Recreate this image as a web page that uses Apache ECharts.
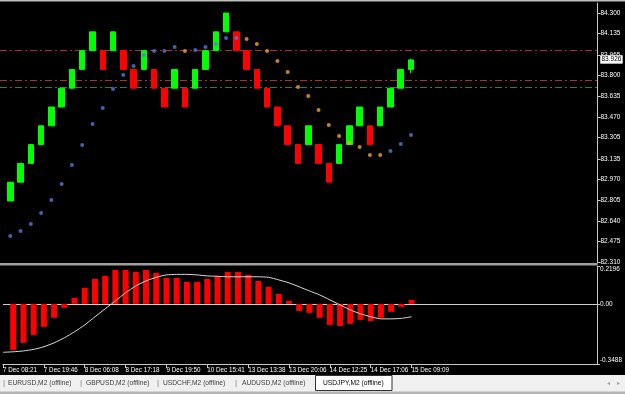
<!DOCTYPE html>
<html><head><meta charset="utf-8">
<script src="https://cdn.jsdelivr.net/npm/echarts@6/dist/echarts.min.js"></script>
<style>html,body{margin:0;padding:0;background:#000;}#c{width:625px;height:394px;}</style>
</head><body><div id="c"></div>
<script>
// ---- data ----
const barIdx = [1,2,3,4,5,6,7,8,9,10,11,12,13,14,15,16,17,18,19,20,21,22,23,24,25,26,27,28,29,30,31,32,33,34,35,36,37,38,39,40];
const brickOpen  = [82.80,82.95,83.10,83.25,83.40,83.55,83.70,83.85,84.00,84.00,84.00,84.00,83.85,83.85,83.85,83.70,83.70,83.70,83.70,83.85,84.00,84.15,84.15,84.00,83.85,83.70,83.55,83.40,83.25,83.25,83.25,83.10,83.10,83.25,83.40,83.40,83.40,83.55,83.70,83.85];
const brickClose = [82.95,83.10,83.25,83.40,83.55,83.70,83.85,84.00,84.15,83.85,84.15,83.85,83.70,84.00,83.70,83.55,83.85,83.55,83.85,84.00,84.15,84.30,84.00,83.85,83.70,83.55,83.40,83.25,83.10,83.40,83.10,82.95,83.25,83.40,83.55,83.25,83.55,83.70,83.85,83.926];
const brickLow   = [82.80,82.95,83.10,83.25,83.40,83.55,83.70,83.85,84.00,83.85,84.00,83.85,83.70,83.85,83.70,83.55,83.70,83.55,83.70,83.85,84.00,84.15,84.00,83.85,83.70,83.55,83.40,83.25,83.10,83.25,83.10,82.95,83.10,83.25,83.40,83.25,83.40,83.55,83.70,83.82];
const brickHigh  = [82.95,83.10,83.25,83.40,83.55,83.70,83.85,84.00,84.15,84.00,84.15,84.00,83.85,84.00,83.85,83.70,83.85,83.70,83.85,84.00,84.15,84.30,84.15,84.00,83.85,83.70,83.55,83.40,83.25,83.40,83.25,83.10,83.25,83.40,83.55,83.40,83.55,83.70,83.85,83.935];
const sarBlue   = [82.521,82.561,82.617,82.704,82.808,82.936,83.087,83.247,83.414,83.542,83.694,83.805,83.877,83.965,83.997,83.997,84.029,null,84.005,84.029,84.053,84.101,84.101,null,null,null,null,null,null,null,null,null,null,null,null,null,null,83.199,83.255,83.327];
const sarOrange = [null,null,null,null,null,null,null,null,null,null,null,null,null,null,null,null,null,83.997,null,null,null,null,null,84.093,84.053,83.997,83.917,83.829,83.710,83.638,83.526,83.406,83.318,83.263,83.231,83.167,83.167,null,null,null];
const histValues = [-0.267,-0.226,-0.180,-0.133,-0.081,-0.023,0.035,0.093,0.145,0.162,0.197,0.197,0.186,0.197,0.180,0.151,0.151,0.128,0.128,0.145,0.162,0.186,0.186,0.168,0.133,0.099,0.058,0.017,-0.041,-0.052,-0.081,-0.122,-0.128,-0.116,-0.093,-0.099,-0.081,-0.046,-0.017,0.023];
const signalIdx = [0].concat(barIdx);
const signalValues = [-0.281,-0.278,-0.273,-0.264,-0.249,-0.226,-0.197,-0.162,-0.122,-0.075,-0.029,0.017,0.064,0.104,0.133,0.154,0.168,0.171,0.171,0.168,0.162,0.160,0.157,0.157,0.157,0.157,0.154,0.139,0.122,0.099,0.075,0.052,0.023,-0.006,-0.035,-0.058,-0.075,-0.087,-0.087,-0.084,-0.075];
const levelRed = [84.00, 83.757];
const levelGreen = [83.710];
const lastPrice = 83.926;
const priceTickLabels = ['82.310','82.475','82.640','82.805','82.970','83.135','83.305','83.470','83.635','83.800','83.965','84.135','84.300'];
const subTickLabels = ['-0.3488','0.00','0.2196'];
const timeTickIdx = [0,4,8,12,16,20,24,28,32,36,40];
const timeLabels = ['7 Dec 08:21','7 Dec 19:46','8 Dec 06:08','8 Dec 17:18','9 Dec 19:50','10 Dec 15:41','13 Dec 13:38','13 Dec 20:06','14 Dec 12:25','14 Dec 17:06','15 Dec 09:09'];
const tabs = ['EURUSD,M2 (offline)','GBPUSD,M2 (offline)','USDCHF,M2 (offline)','AUDUSD,M2 (offline)','USDJPY,M2 (offline)'];

// ---- chart ----
const FONT = "'Liberation Sans', Arial, sans-serif";
const priceTickValues = priceTickLabels.map(Number);
const subTickValues = subTickLabels.map(Number);
const AX = '#c8c8c8';
const chart = echarts.init(document.getElementById('c'), null, {renderer:'canvas'});

const candleData = barIdx.map((x,i)=>[x, brickOpen[i], brickClose[i], brickLow[i], brickHigh[i]]);
const blueData = barIdx.map((x,i)=>[x, sarBlue[i]]).filter(d=>d[1]!=null);
const orangeData = barIdx.map((x,i)=>[x, sarOrange[i]]).filter(d=>d[1]!=null);
const histData = barIdx.map((x,i)=>[x, histValues[i]]);
const sigData = signalIdx.map((x,i)=>[x, signalValues[i]]);

const XMIN = 0, XMAX = 58.15;
const gridL = -4.86, gridW = 597.5 + 4.86;

const dashLine = (v,c)=>({yAxis:v, lineStyle:{color:c, width:1, type:[7,3,2,3]}});

const tabX = [8, 86, 163, 242, 323];
const sepX = [3, 80, 157, 235];

chart.setOption({
  backgroundColor:'#000',
  animation:false,
  grid:[
    {left:gridL, width:gridW, top:3, height:260},
    {left:gridL, width:gridW, top:266, height:98}
  ],
  xAxis:[
    {gridIndex:0, type:'value', min:XMIN, max:XMAX, show:false, splitLine:{show:false}},
    {gridIndex:1, type:'value', min:XMIN, max:XMAX, splitLine:{show:false},
     axisLine:{show:true, onZero:false, lineStyle:{color:AX, width:1}},
     axisTick:{show:true, customValues:timeTickIdx, length:4, lineStyle:{color:AX}},
     axisLabel:{customValues:timeTickIdx, align:'left', margin:3, color:'#fff', fontSize:6.3, fontFamily:FONT,
       formatter:v=>{const k=timeTickIdx.indexOf(Math.round(v)); return k>=0?timeLabels[k]:'';}}}
  ],
  yAxis:[
    {gridIndex:0, type:'value', position:'right', min:82.305, max:84.380, splitLine:{show:false},
     axisLine:{show:true, onZero:false, lineStyle:{color:AX, width:1}},
     axisTick:{show:true, customValues:priceTickValues, length:3, lineStyle:{color:AX}},
     axisLabel:{customValues:priceTickValues, margin:3, color:'#fff', fontSize:6.5, fontFamily:FONT,
       formatter:v=>{let b=0; for(let i=0;i<priceTickValues.length;i++){if(Math.abs(priceTickValues[i]-v)<Math.abs(priceTickValues[b]-v)) b=i;} return priceTickLabels[b];}}},
    {gridIndex:1, type:'value', position:'right', min:-0.3488, max:0.2196, splitLine:{show:false},
     axisLine:{show:true, onZero:false, lineStyle:{color:AX, width:1}},
     axisTick:{show:true, customValues:subTickValues, length:3, lineStyle:{color:AX}},
     axisLabel:{customValues:subTickValues, margin:3, color:'#fff', fontSize:6.5, fontFamily:FONT,
       verticalAlignMinLabel:'bottom', verticalAlignMaxLabel:'top',
       formatter:v=>{let b=0; for(let i=0;i<subTickValues.length;i++){if(Math.abs(subTickValues[i]-v)<Math.abs(subTickValues[b]-v)) b=i;} return subTickLabels[b];}}}
  ],
  series:[
    {type:'candlestick', xAxisIndex:0, yAxisIndex:0, data:candleData, encode:{x:0, y:[1,2,3,4]},
     barWidth:6, z:3,
     itemStyle:{color:'#00ff00', color0:'#ff0000', borderColor:'#00ff00', borderColor0:'#ff0000', borderWidth:1},
     markLine:{silent:true, symbol:'none', z:1, animation:false, label:{show:false},
       data:[dashLine(levelRed[0],'#a83030'), dashLine(levelRed[1],'#a83030'), dashLine(levelGreen[0],'#3a7a3a')]}},
    {type:'line', xAxisIndex:0, yAxisIndex:0, data:[[40,lastPrice]], symbol:'none', lineStyle:{width:0}, z:6, silent:true,
     markLine:{silent:true, symbol:'none', z:8, lineStyle:{color:'rgba(0,0,0,0)', width:1, type:'solid'},
       label:{show:true, position:'end', distance:3, formatter:()=>lastPrice.toFixed(3), color:'#000', backgroundColor:'#ffffff',
         fontSize:6.5, fontFamily:FONT, padding:[1,1,0,1], borderColor:'#888', borderWidth:0.5},
       data:[{yAxis:lastPrice}]}},
    {type:'scatter', xAxisIndex:0, yAxisIndex:0, data:blueData, symbol:'circle', symbolSize:4, z:5,
     itemStyle:{color:'#5a78d6'}},
    {type:'scatter', xAxisIndex:0, yAxisIndex:0, data:orangeData, symbol:'circle', symbolSize:4, z:5,
     itemStyle:{color:'#f2a531'}},
    {type:'bar', xAxisIndex:1, yAxisIndex:1, data:histData, barWidth:6, z:3,
     itemStyle:{color:'#ff0000'},
     markLine:{silent:true, symbol:'none', z:2, label:{show:false}, lineStyle:{color:'#d0d0d0', width:1, type:'solid'},
       data:[{yAxis:0}]}},
    {type:'line', xAxisIndex:1, yAxisIndex:1, data:sigData, symbol:'none', smooth:0.2, z:4,
     lineStyle:{color:'#dcdcdc', width:1}}
  ],
  graphic:[
    {type:'rect', shape:{x:0, y:0, width:625, height:1.5}, style:{fill:'#bdbdbd'}, silent:true},
    {type:'rect', shape:{x:0, y:263, width:597.5, height:2.5}, style:{fill:'#a0a0a0'}, silent:true, z:10},
    {type:'rect', shape:{x:0, y:375, width:625, height:19}, style:{fill:'#f0f0f0'}, silent:true},
    {type:'rect', shape:{x:0, y:391.5, width:625, height:2.5}, style:{fill:'#b4b4b4'}, silent:true},
    {type:'rect', shape:{x:315.5, y:375.5, width:76.5, height:15}, style:{fill:'#ffffff', stroke:'#303030', lineWidth:1}, silent:true},
    ...sepX.map(x=>({type:'text', x:x, y:383, style:{text:'|', fill:'#808080', fontSize:8, fontFamily:FONT, verticalAlign:'middle'}, silent:true})),
    ...tabs.map((t,i)=>({type:'text', x:tabX[i], y:383, style:{text:t, fill:i===4?'#000':'#404040', fontSize:6.7, fontFamily:FONT, verticalAlign:'middle'}, silent:true, z:5})),
    {type:'text', x:607, y:383, style:{text:'◂', fill:'#a0a0a0', fontSize:6, fontFamily:"'DejaVu Sans'", verticalAlign:'middle'}, silent:true},
    {type:'text', x:617, y:383, style:{text:'▸', fill:'#a0a0a0', fontSize:6, fontFamily:"'DejaVu Sans'", verticalAlign:'middle'}, silent:true}
  ]
});
</script>
</body></html>
